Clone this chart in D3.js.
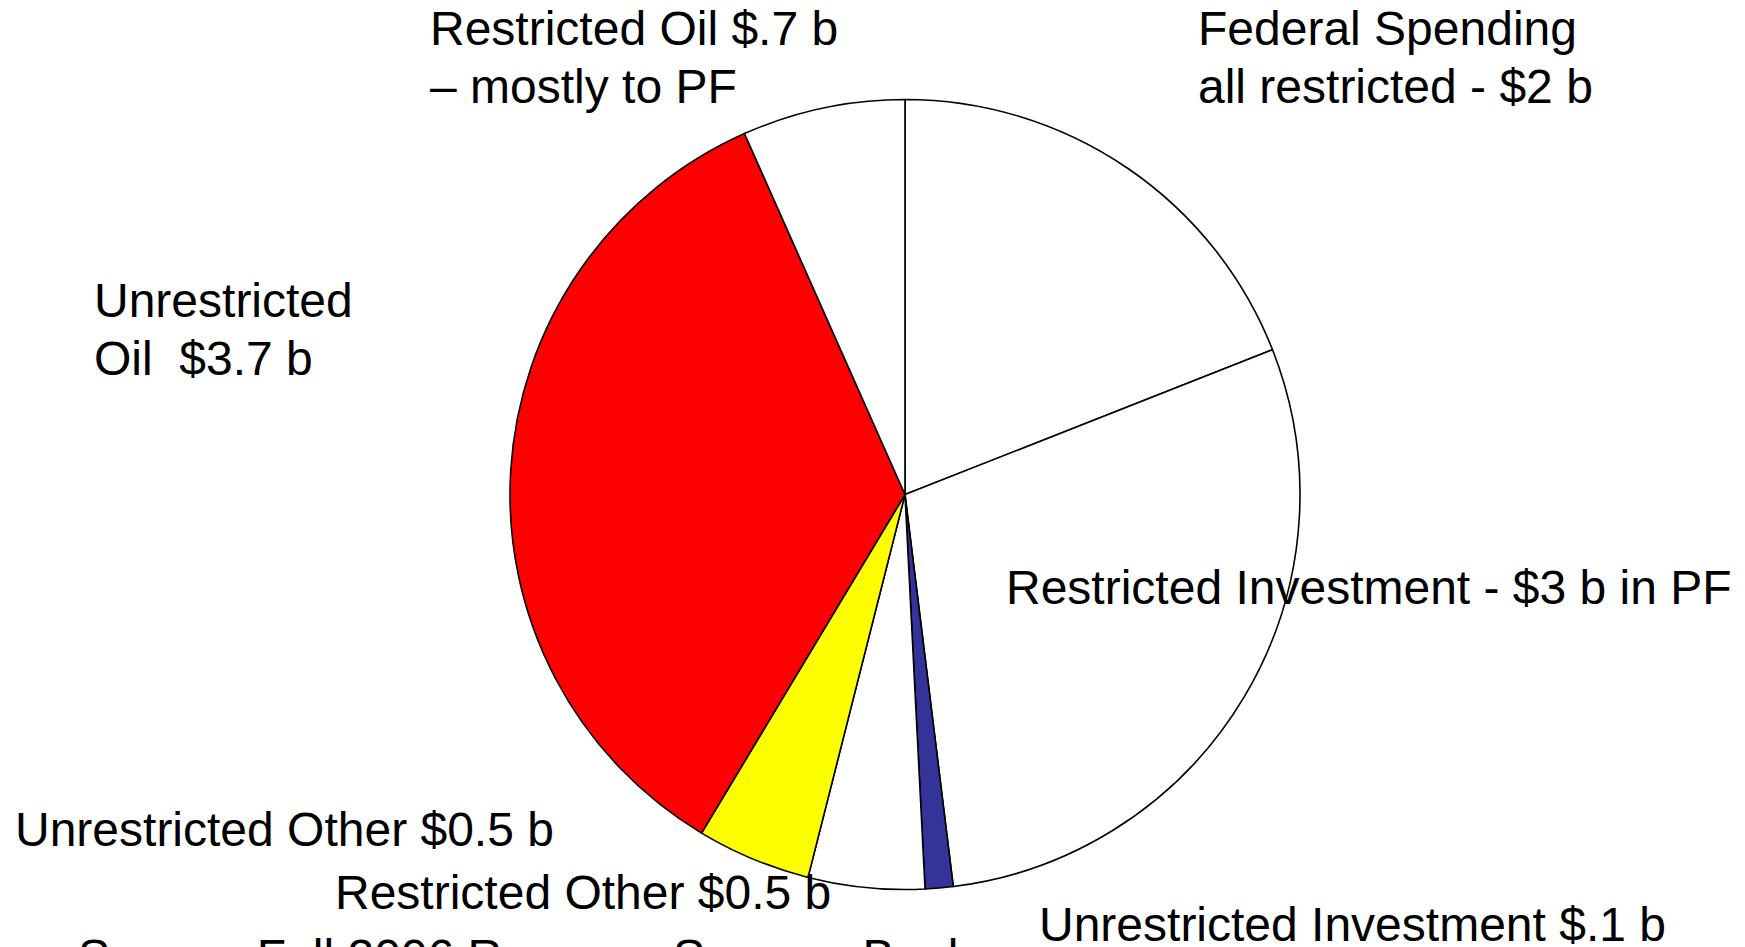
<!DOCTYPE html>
<html>
<head>
<meta charset="utf-8">
<script src="https://cdn.jsdelivr.net/npm/d3@7"></script>
<style>
  html, body { margin: 0; padding: 0; background: #fff; overflow: hidden; }
  text { font-family: "Liberation Sans", Arial, sans-serif; font-size: 48px; fill: #000; white-space: pre; }
</style>
</head>
<body>
<div id="chart"></div>
<script>
// slices clockwise from 12 o'clock, values in $ billions
const categories = [
  "Federal Spending",
  "Restricted Investment",
  "Unrestricted Investment",
  "Restricted Other",
  "Unrestricted Other",
  "Unrestricted Oil",
  "Restricted Oil"
];
const values = [2.0, 3.05, 0.12, 0.5, 0.49, 3.65, 0.7];
const sliceColors = ["#ffffff", "#ffffff", "#333399", "#ffffff", "#ffff00", "#ff0000", "#ffffff"];

// label text lines, per category
const labelLines = [
  ["Federal Spending", "all restricted - $2 b"],
  ["Restricted Investment - $3 b in PF"],
  ["Unrestricted Investment $.1 b"],
  ["Restricted Other $0.5 b"],
  ["Unrestricted Other $0.5 b"],
  ["Unrestricted", "Oil  $3.7 b"],
  ["Restricted Oil $.7 b", "– mostly to PF"]
];
const sourceNote = "Source: Fall 2006 Revenue Sources Book";

const width = 1745, height = 947;
const cx = 905, cy = 494.5, radius = 395;

const svg = d3.select("#chart")
  .append("svg")
  .attr("width", width)
  .attr("height", height)
  .attr("viewBox", [0, 0, width, height]);

const data = categories.map((c, i) => ({ name: c, value: values[i], color: sliceColors[i], lines: labelLines[i] }));

const pie = d3.pie().sort(null).value(d => d.value);
const arc = d3.arc().innerRadius(0).outerRadius(radius);

const g = svg.append("g").attr("transform", `translate(${cx},${cy})`);

g.selectAll("path")
  .data(pie(data))
  .enter()
  .append("path")
  .attr("d", arc)
  .attr("fill", d => d.data.color)
  .attr("stroke", "#000")
  .attr("stroke-width", 1.6)
  .attr("stroke-linejoin", "round");

// label anchor spots (left end, baseline of first line)
const labelPos = {
  "Federal Spending": [1198, 45],
  "Restricted Investment": [1006, 604],
  "Unrestricted Investment": [1039, 941],
  "Restricted Other": [335, 909],
  "Unrestricted Other": [15, 846],
  "Unrestricted Oil": [94, 317],
  "Restricted Oil": [430, 45]
};
const lineHeight = 57.5;

const labels = svg.append("g")
  .selectAll("text")
  .data(data)
  .enter()
  .append("text")
  .attr("x", d => labelPos[d.name][0])
  .attr("y", d => labelPos[d.name][1]);

labels.selectAll("tspan")
  .data(d => d.lines.map((t, i) => ({ t, i, x: labelPos[d.name][0] })))
  .enter()
  .append("tspan")
  .attr("x", d => d.x)
  .attr("dy", d => d.i === 0 ? 0 : lineHeight)
  .text(d => d.t);

svg.append("text")
  .attr("x", 78)
  .attr("y", 973)
  .text(sourceNote);
</script>
</body>
</html>
